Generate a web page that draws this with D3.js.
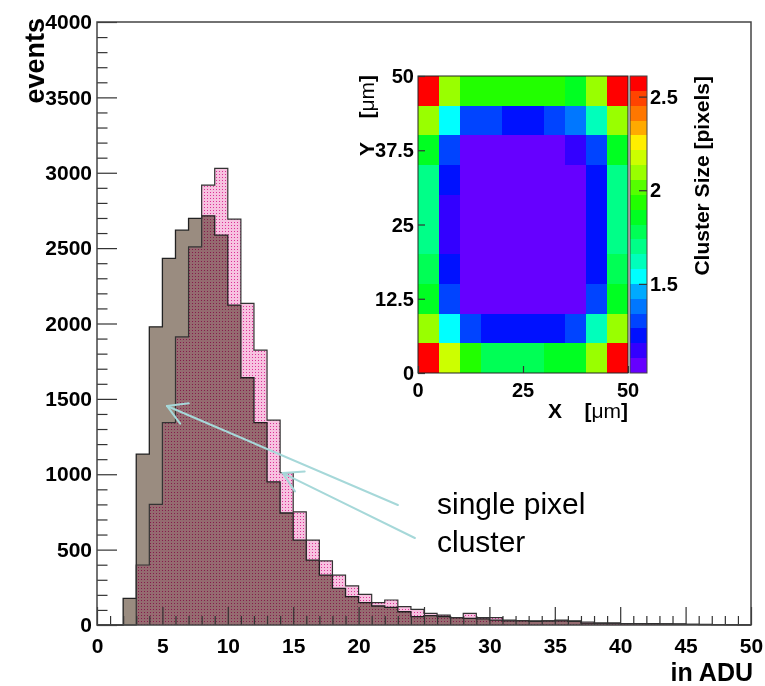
<!DOCTYPE html>
<html>
<head>
<meta charset="utf-8">
<script src="https://cdn.jsdelivr.net/npm/d3@7"></script>
<style>
body { margin: 0; background: #fff; }
text { font-family: "Liberation Sans", Arial, Helvetica, sans-serif; }
</style>
</head>
<body>
<svg id="chart" width="765" height="686"></svg>
<script>
/* ADC spectrum (two histograms, 1 ADU bins 0..50) with cluster-size map inset */

// histogram contents, bin i covers [i, i+1) ADU
const countsBrown = [
    0, 0, 176, 1134, 1978, 2432, 2619, 2697, 2714, 2586,
    2122, 1640, 1342, 950, 743, 563, 431, 331, 243, 188,
    148, 126, 117, 88, 55, 62, 55, 49, 44, 40,
    33, 27, 27, 24, 27, 27, 24, 13, 13, 13,
    9, 9, 9, 7, 7, 4, 4, 2, 2, 1
];
const countsPink = [
    0, 0, 0, 398, 800, 1342, 1911, 2508, 2918, 3029,
    2692, 2133, 1824, 1359, 1010, 751, 563, 426, 331, 259,
    203, 148, 166, 122, 104, 77, 66, 49, 77, 49,
    49, 33, 30, 27, 27, 33, 27, 20, 13, 13,
    9, 9, 7, 7, 5, 5, 3, 2, 1, 1
];
const yMajorTicks = [0, 500, 1000, 1500, 2000, 2500, 3000, 3500, 4000];
const xMajorTicks = [0, 5, 10, 15, 20, 25, 30, 35, 40, 45, 50];

// inset: mean cluster size per 5x5 um cell, first row is y = 45..50 um
const mapRows = [
    [2.57, 2.10, 1.94, 1.94, 1.94, 1.94, 1.94, 1.86, 2.10, 2.57],
    [2.10, 1.54, 1.30, 1.30, 1.22, 1.22, 1.30, 1.38, 1.62, 2.10],
    [1.86, 1.30, 1.06, 1.06, 1.06, 1.06, 1.06, 1.14, 1.30, 1.86],
    [1.70, 1.22, 1.06, 1.06, 1.06, 1.06, 1.06, 1.06, 1.22, 1.70],
    [1.70, 1.14, 1.06, 1.06, 1.06, 1.06, 1.06, 1.06, 1.22, 1.70],
    [1.70, 1.14, 1.06, 1.06, 1.06, 1.06, 1.06, 1.06, 1.22, 1.70],
    [1.78, 1.22, 1.06, 1.06, 1.06, 1.06, 1.06, 1.06, 1.22, 1.78],
    [1.86, 1.30, 1.06, 1.06, 1.06, 1.06, 1.06, 1.06, 1.30, 1.86],
    [2.10, 1.54, 1.30, 1.22, 1.22, 1.22, 1.22, 1.30, 1.62, 2.10],
    [2.57, 2.17, 1.94, 1.78, 1.78, 1.78, 1.86, 1.86, 2.10, 2.57]
];
const mapCellSize = 5;
const zRange = [1.024, 2.61];
const zTicks = [1.5, 2, 2.5];
const mapYTicks = [0, 12.5, 25, 37.5, 50];
const mapXTicks = [0, 25, 50];
const palette = [
    '#6600ff', '#3300ff', '#0011ff', '#0044ff', '#0077ff',
    '#00aaff', '#00ffff', '#00ffbb', '#00ff88', '#00ff55',
    '#00ff22', '#22ff00', '#55ff00', '#99ff00', '#ccff00',
    '#ffee00', '#ffaa00', '#ff7700', '#ff4400', '#ff0000'
];

// arrows, in data coordinates (ADU, events)
const arrows = [
    {from: [23.0, 796], to: [5.35, 1453]},
    {from: [24.3, 577], to: [14.2, 1008]}
];

const svg = d3.select('#chart');

let x = d3.scaleLinear().domain([0, 50]).range([97, 751]);
let y = d3.scaleLinear().domain([0, 4000]).range([625, 22]);

// dotted pink fill, multiplied over whatever is beneath
let defs = svg.append('defs');
let pat = defs.append('pattern')
    .attr('id', 'dots')
    .attr('patternUnits', 'userSpaceOnUse')
    .attr('width', 3).attr('height', 3);
pat.append('rect').attr('x', 0).attr('y', 0)
    .attr('width', 3).attr('height', 3)
    .attr('fill', '#f7c2e0');
pat.append('rect').attr('x', 0).attr('y', 0)
    .attr('width', 1).attr('height', 1)
    .attr('fill', '#dc3096');

function stepPoints(counts) {
    let pts = counts.map((v, i) => ({x: i, v: v}));
    pts.push({x: counts.length, v: counts[counts.length - 1]});
    return pts;
}

let area = d3.area()
    .curve(d3.curveStepAfter)
    .x(d => x(d.x))
    .y0(y(0))
    .y1(d => y(d.v));

let line = d3.line()
    .curve(d3.curveStepAfter)
    .x(d => x(d.x))
    .y(d => y(d.v));

svg.append('path')
    .attr('d', area(stepPoints(countsBrown)))
    .attr('fill', '#9a8c80');

svg.append('path')
    .attr('d', area(stepPoints(countsPink)))
    .attr('fill', 'url(#dots)')
    .style('mix-blend-mode', 'multiply');

svg.append('path')
    .attr('d', line(stepPoints(countsBrown)))
    .attr('fill', 'none').attr('stroke', '#222').attr('stroke-width', 1.3);
svg.append('path')
    .attr('d', line(stepPoints(countsPink)))
    .attr('fill', 'none').attr('stroke', '#333').attr('stroke-width', 1.2);

// axes, ticks pointing inward
function tickStyle(g) {
    g.select('.domain').remove();
    g.selectAll('line').attr('stroke', '#333').attr('stroke-width', 1.2);
}

let yMinor = d3.range(0, 4001, 100).filter(v => v % 500 !== 0);
let xMinor = d3.range(0, 51, 1).filter(v => v % 5 !== 0);

svg.append('g').attr('transform', 'translate(97,0)')
    .call(d3.axisRight(y).tickValues(yMajorTicks).tickSize(20).tickFormat(''))
    .call(tickStyle);
svg.append('g').attr('transform', 'translate(97,0)')
    .call(d3.axisRight(y).tickValues(yMinor).tickSize(10.5).tickFormat(''))
    .call(tickStyle);
svg.append('g').attr('transform', 'translate(0,625)')
    .call(d3.axisTop(x).tickValues(xMajorTicks).tickSize(18).tickFormat(''))
    .call(tickStyle);
svg.append('g').attr('transform', 'translate(0,625)')
    .call(d3.axisTop(x).tickValues(xMinor).tickSize(9).tickFormat(''))
    .call(tickStyle);

let yLab = svg.append('g').attr('transform', 'translate(97,0)')
    .call(d3.axisLeft(y).tickValues(yMajorTicks).tickSize(0).tickPadding(5)
        .tickFormat(d3.format('d')));
yLab.select('.domain').remove();
yLab.selectAll('text')
    .attr('font-size', 21).attr('font-weight', 'bold')
    .attr('fill', '#000').style('font-family', '"Liberation Sans", Arial, sans-serif');

let xLab = svg.append('g').attr('transform', 'translate(0,625)')
    .call(d3.axisBottom(x).tickValues(xMajorTicks).tickSize(0).tickPadding(13)
        .tickFormat(d3.format('d')));
xLab.select('.domain').remove();
xLab.selectAll('text')
    .attr('font-size', 21).attr('font-weight', 'bold')
    .attr('fill', '#000').style('font-family', '"Liberation Sans", Arial, sans-serif');

svg.append('rect')
    .attr('x', x(0)).attr('y', y(4000))
    .attr('width', x(50) - x(0)).attr('height', y(0) - y(4000))
    .attr('fill', 'none').attr('stroke', '#444').attr('stroke-width', 1.5);

svg.append('text')
    .attr('transform', 'translate(44,18) rotate(-90)')
    .attr('text-anchor', 'end')
    .attr('font-size', 27).attr('font-weight', 'bold')
    .text('events');

svg.append('text')
    .attr('x', 753).attr('y', 681)
    .attr('text-anchor', 'end')
    .attr('font-size', 25).attr('font-weight', 'bold')
    .text('in ADU');

// annotation arrows + label
let arrowG = svg.append('g')
    .attr('stroke', '#a6d8d9').attr('stroke-width', 2)
    .attr('fill', 'none').attr('stroke-linecap', 'round');

arrows.forEach(a => {
    let tx = x(a.to[0]), ty = y(a.to[1]);
    let fx = x(a.from[0]), fy = y(a.from[1]);
    let ang = Math.atan2(fy - ty, fx - tx);
    let head = 22, spread = Math.PI / 6;
    arrowG.append('line')
        .attr('x1', fx).attr('y1', fy).attr('x2', tx).attr('y2', ty);
    [-spread, spread].forEach(s => {
        arrowG.append('line')
            .attr('x1', tx).attr('y1', ty)
            .attr('x2', tx + head * Math.cos(ang + s))
            .attr('y2', ty + head * Math.sin(ang + s));
    });
});

svg.append('text')
    .attr('x', 437).attr('y', 514)
    .attr('font-size', 30)
    .text('single pixel');
svg.append('text')
    .attr('x', 437).attr('y', 552)
    .attr('font-size', 30)
    .text('cluster');

// ---- inset: cluster size map ----
let mx = d3.scaleLinear().domain([0, 50]).range([418, 628]);
let my = d3.scaleLinear().domain([0, 50]).range([373, 76]);
let zColor = d3.scaleQuantize().domain(zRange).range(palette);

let inset = svg.append('g');
inset.append('rect')
    .attr('x', mx(0)).attr('y', my(50))
    .attr('width', mx(50) - mx(0)).attr('height', my(0) - my(50))
    .attr('fill', '#fff');

mapRows.forEach((row, r) => {
    let yLo = 50 - (r + 1) * mapCellSize;
    row.forEach((v, c) => {
        let xLo = c * mapCellSize;
        inset.append('rect')
            .attr('x', mx(xLo))
            .attr('y', my(yLo + mapCellSize))
            .attr('width', mx(xLo + mapCellSize) - mx(xLo))
            .attr('height', my(yLo) - my(yLo + mapCellSize))
            .attr('shape-rendering', 'crispEdges')
            .attr('fill', zColor(v));
    });
});

inset.append('rect')
    .attr('x', mx(0)).attr('y', my(50))
    .attr('width', mx(50) - mx(0)).attr('height', my(0) - my(50))
    .attr('fill', 'none').attr('stroke', '#222').attr('stroke-width', 1);

inset.append('g').attr('transform', `translate(${mx(0)},0)`)
    .call(d3.axisRight(my).tickValues(mapYTicks).tickSize(7).tickFormat(''))
    .call(tickStyle);
inset.append('g').attr('transform', `translate(0,${my(0)})`)
    .call(d3.axisTop(mx).tickValues(mapXTicks).tickSize(7).tickFormat(''))
    .call(tickStyle);

inset.selectAll('.ylab')
    .data(mapYTicks)
    .enter()
    .append('text')
    .attr('x', 414).attr('y', d => my(d)).attr('dy', '0.36em')
    .attr('text-anchor', 'end')
    .attr('font-size', 20).attr('font-weight', 'bold')
    .text(d => d);

inset.selectAll('.xlab')
    .data(mapXTicks)
    .enter()
    .append('text')
    .attr('x', d => mx(d)).attr('y', 397)
    .attr('text-anchor', 'middle')
    .attr('font-size', 20).attr('font-weight', 'bold')
    .text(d => d);

let xt = inset.append('text')
    .attr('x', 548).attr('y', 418)
    .attr('font-size', 21).attr('font-weight', 'bold');
xt.append('tspan').text('X');
let xu = inset.append('text')
    .attr('x', 628).attr('y', 418)
    .attr('text-anchor', 'end')
    .attr('font-size', 21).attr('font-weight', 'bold');
xu.append('tspan').text('[');
xu.append('tspan').attr('font-weight', 'normal').text('\u03bcm');
xu.append('tspan').text(']');

inset.append('text')
    .attr('transform', 'translate(374,156) rotate(-90)')
    .attr('font-size', 21).attr('font-weight', 'bold')
    .text('Y');
let yu = inset.append('text')
    .attr('transform', 'translate(374,75) rotate(-90)')
    .attr('text-anchor', 'end')
    .attr('font-size', 21).attr('font-weight', 'bold');
yu.append('tspan').text('[');
yu.append('tspan').attr('font-weight', 'normal').text('\u03bcm');
yu.append('tspan').text(']');

// colour bar
let zs = d3.scaleLinear().domain(zRange).range([373, 76]);
let zStep = (zRange[1] - zRange[0]) / palette.length;
let levels = palette.map((col, i) => ({lo: zRange[0] + i * zStep, col: col}));

inset.selectAll('.zcell')
    .data(levels)
    .enter()
    .append('rect')
    .attr('x', 630).attr('width', 17)
    .attr('y', d => zs(d.lo + zStep))
    .attr('height', d => zs(d.lo) - zs(d.lo + zStep))
    .attr('shape-rendering', 'crispEdges')
    .attr('fill', d => d.col);

inset.append('rect')
    .attr('x', 630).attr('y', zs(zRange[1]))
    .attr('width', 17).attr('height', zs(zRange[0]) - zs(zRange[1]))
    .attr('fill', 'none').attr('stroke', '#444').attr('stroke-width', 1);

inset.append('g').attr('transform', 'translate(647,0)')
    .call(d3.axisLeft(zs).tickValues(zTicks).tickSize(8).tickFormat(''))
    .call(tickStyle);

inset.selectAll('.zlab')
    .data(zTicks)
    .enter()
    .append('text')
    .attr('x', 650).attr('y', d => zs(d)).attr('dy', '0.36em')
    .attr('font-size', 20).attr('font-weight', 'bold')
    .text(d => d);

inset.append('text')
    .attr('transform', 'translate(709,76) rotate(-90)')
    .attr('text-anchor', 'end')
    .attr('font-size', 21).attr('font-weight', 'bold')
    .text('Cluster Size [pixels]');
</script>
</body>
</html>
